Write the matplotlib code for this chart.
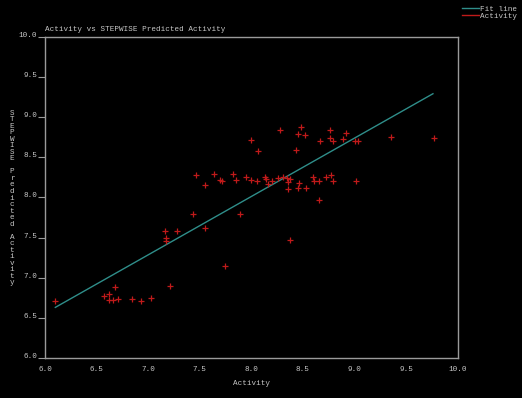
#!/usr/bin/env python3

import numpy as np
import matplotlib.pyplot as plt
from matplotlib.lines import Line2D

activity = [6.10, 6.57, 6.62, 6.68, 6.62, 6.66, 6.71, 6.84, 6.93, 7.03,
            7.21, 7.16, 7.28, 7.17, 7.17, 7.43, 7.55, 7.74, 7.46, 7.55,
            7.64, 7.70, 7.72, 7.82, 7.85, 7.89, 7.95, 8.00, 8.05, 8.00,
            8.06, 8.13, 8.14, 8.16, 8.20, 8.26, 8.28, 8.31, 8.35, 8.37,
            8.36, 8.36, 8.37, 8.43, 8.45, 8.48, 8.52, 8.46, 8.45, 8.53,
            8.60, 8.61, 8.66, 8.66, 8.67, 8.72, 8.76, 8.76, 8.79, 8.77,
            8.79, 8.89, 8.92, 9.00, 9.03, 9.01, 9.35, 9.77]
predicted = [6.71, 6.77, 6.80, 6.88, 6.72, 6.72, 6.74, 6.74, 6.71, 6.75,
             6.90, 7.58, 7.58, 7.49, 7.46, 7.79, 7.62, 7.15, 8.28, 8.15,
             8.29, 8.22, 8.20, 8.29, 8.22, 7.79, 8.25, 8.22, 8.20, 8.72,
             8.58, 8.25, 8.23, 8.17, 8.20, 8.24, 8.84, 8.25, 8.24, 8.23,
             8.19, 8.11, 7.47, 8.59, 8.79, 8.88, 8.77, 8.18, 8.12, 8.12,
             8.25, 8.20, 8.20, 7.97, 8.70, 8.25, 8.84, 8.74, 8.70, 8.28,
             8.20, 8.73, 8.80, 8.70, 8.70, 8.20, 8.75, 8.74]

fit_x = [6.10, 9.76]
fit_y = [6.63, 9.29]

x_ticks = [6.0, 6.5, 7.0, 7.5, 8.0, 8.5, 9.0, 9.5, 10.0]
y_ticks = [6.0, 6.5, 7.0, 7.5, 8.0, 8.5, 9.0, 9.5, 10.0]

plt.rcParams['font.family'] = ['Liberation Mono', 'DejaVu Sans Mono']
fs = 5.5
txt = '#c8c8c8'
grey = '#9a9a9a'
red = '#c01a1a'
teal = '#2f8e8a'

fig = plt.figure(figsize=(5.22, 3.98), dpi=100, facecolor='black')
ax = fig.add_axes([45 / 522, 1 - 358 / 398, 412.7 / 522, 321.3 / 398], facecolor='black')

ax.plot(fit_x, fit_y, '-', color=teal, lw=1.0)
ax.plot(activity, predicted, '+', color=red, ms=5, mew=0.9)

ax.set_xlim(6.0, 10.0)
ax.set_ylim(6.0, 10.0)
ax.set_xticks(x_ticks)
ax.set_xticklabels(["{:.1f}".format(v) for v in x_ticks])
ax.set_yticks(y_ticks)
ax.set_yticklabels(["{:.1f}".format(v) for v in y_ticks])
for lab in ax.get_yticklabels():
    lab.set_va('baseline')
ax.tick_params(axis='x', length=0, pad=6, labelsize=fs, labelcolor=txt)
ax.tick_params(axis='y', length=5, width=0.8, color=grey, pad=0.5,
               labelsize=fs, labelcolor=txt)
for sp in ax.spines.values():
    sp.set_color(grey)
    sp.set_linewidth(1.0)

ax.text(0.0, 1.012, "Activity vs STEPWISE Predicted Activity", transform=ax.transAxes,
        ha='left', va='bottom', fontsize=fs, color=txt)
ax.set_xlabel("Activity", fontsize=fs, color=txt, labelpad=5)

ylab = "STEPWISE Predicted Activity"
fig.text(12 / 522, 1 - 198 / 398, "\n".join(ylab), ha='center', va='center',
         fontsize=fs, color=txt, linespacing=0.905)

handles = [Line2D([], [], color=teal, lw=1.0), Line2D([], [], color=red, lw=1.0)]
leg = fig.legend(handles, ["Fit line", "Activity"], loc='upper right',
                 bbox_to_anchor=(1.0, 1.0), frameon=False, fontsize=fs,
                 handlelength=2.2, handletextpad=0.1, labelspacing=0.0,
                 borderpad=0.3, borderaxespad=0.4)
for t in leg.get_texts():
    t.set_color(txt)

plt.savefig("out.png", dpi=100, facecolor='black')
